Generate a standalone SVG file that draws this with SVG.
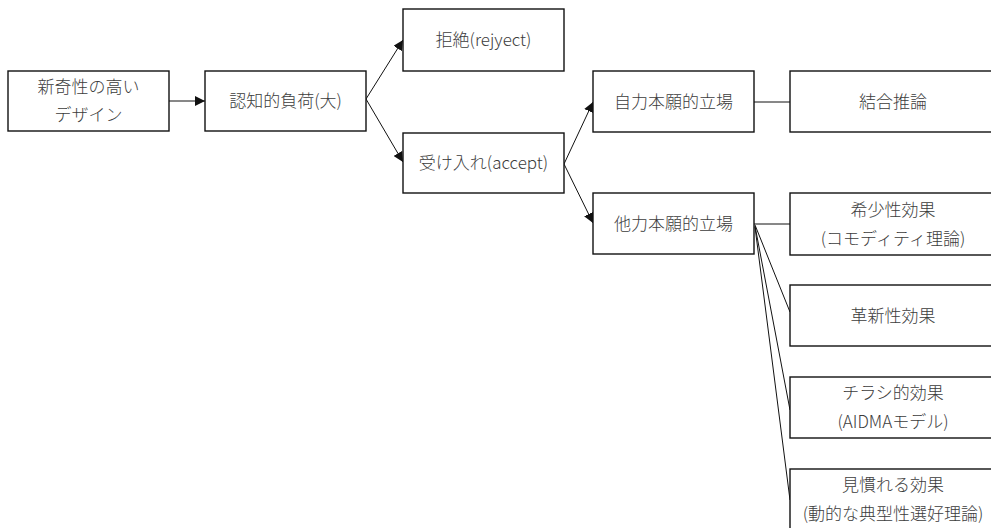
<svg xmlns="http://www.w3.org/2000/svg" width="991" height="528" viewBox="0 0 991 528">
<defs>
<style>
.box{fill:#fff;stroke:#111;stroke-width:1.4}
.t{font-family:"Noto Sans CJK JP","Noto Sans",sans-serif;font-size:17px;font-weight:300;fill:#3c3c3c;text-anchor:middle}
.c{stroke:#111;stroke-width:1;fill:none}
.a{marker-end:url(#ah)}
</style>
<marker id="ah" viewBox="0 0 10 10" refX="10" refY="5" markerWidth="10" markerHeight="10" markerUnits="userSpaceOnUse" orient="auto">
<path d="M0,0 L10,5 L0,10 z" fill="#111"/>
</marker>
</defs>
<rect width="991" height="528" fill="#fff"/>
<g id="connectors">
<line class="c a" x1="169" y1="101" x2="205" y2="101"/>
<line class="c a" x1="366" y1="99" x2="403" y2="40"/>
<line class="c a" x1="366" y1="99" x2="403" y2="162"/>
<line class="c a" x1="564" y1="164" x2="593" y2="102"/>
<line class="c a" x1="564" y1="164" x2="593" y2="223"/>
<line class="c" x1="754" y1="102" x2="790" y2="102"/>
<line class="c" x1="754" y1="224" x2="790" y2="224"/>
<line class="c" x1="755" y1="225" x2="790" y2="312"/>
<line class="c" x1="755" y1="226" x2="790" y2="410"/>
<line class="c" x1="755" y1="227" x2="790" y2="500"/>
</g>
<g id="n1"><rect class="box" x="8" y="71" width="161" height="60"/><text class="t" x="88.5" y="93">新奇性の高い</text><text class="t" x="88.5" y="121">デザイン</text></g>
<g id="n2"><rect class="box" x="205" y="71" width="161" height="60"/><text class="t" x="285.5" y="107">認知的負荷(大)</text></g>
<g id="n3"><rect class="box" x="403" y="9" width="161" height="62"/><text class="t" x="483.5" y="46">拒絶(rejyect)</text></g>
<g id="n4"><rect class="box" x="403" y="133" width="161" height="60"/><text class="t" x="483.5" y="169">受け入れ(accept)</text></g>
<g id="n5"><rect class="box" x="593" y="71" width="161" height="61"/><text class="t" x="673.5" y="108">自力本願的立場</text></g>
<g id="n6"><rect class="box" x="790" y="71" width="210" height="61"/><text class="t" x="893" y="108">結合推論</text></g>
<g id="n7"><rect class="box" x="593" y="193" width="161" height="61"/><text class="t" x="673.5" y="230">他力本願的立場</text></g>
<g id="n8"><rect class="box" x="790" y="193" width="210" height="62"/><text class="t" x="893" y="216">希少性効果</text><text class="t" x="893" y="245">(コモディティ理論)</text></g>
<g id="n9"><rect class="box" x="790" y="285" width="210" height="61"/><text class="t" x="893" y="322">革新性効果</text></g>
<g id="n10"><rect class="box" x="790" y="377" width="210" height="61"/><text class="t" x="893" y="399">チラシ的効果</text><text class="t" x="893" y="428">(AIDMAモデル)</text></g>
<g id="n11"><rect class="box" x="790" y="469" width="210" height="70"/><text class="t" x="893" y="491">見慣れる効果</text><text class="t" x="893" y="520">(動的な典型性選好理論)</text></g>
</svg>
